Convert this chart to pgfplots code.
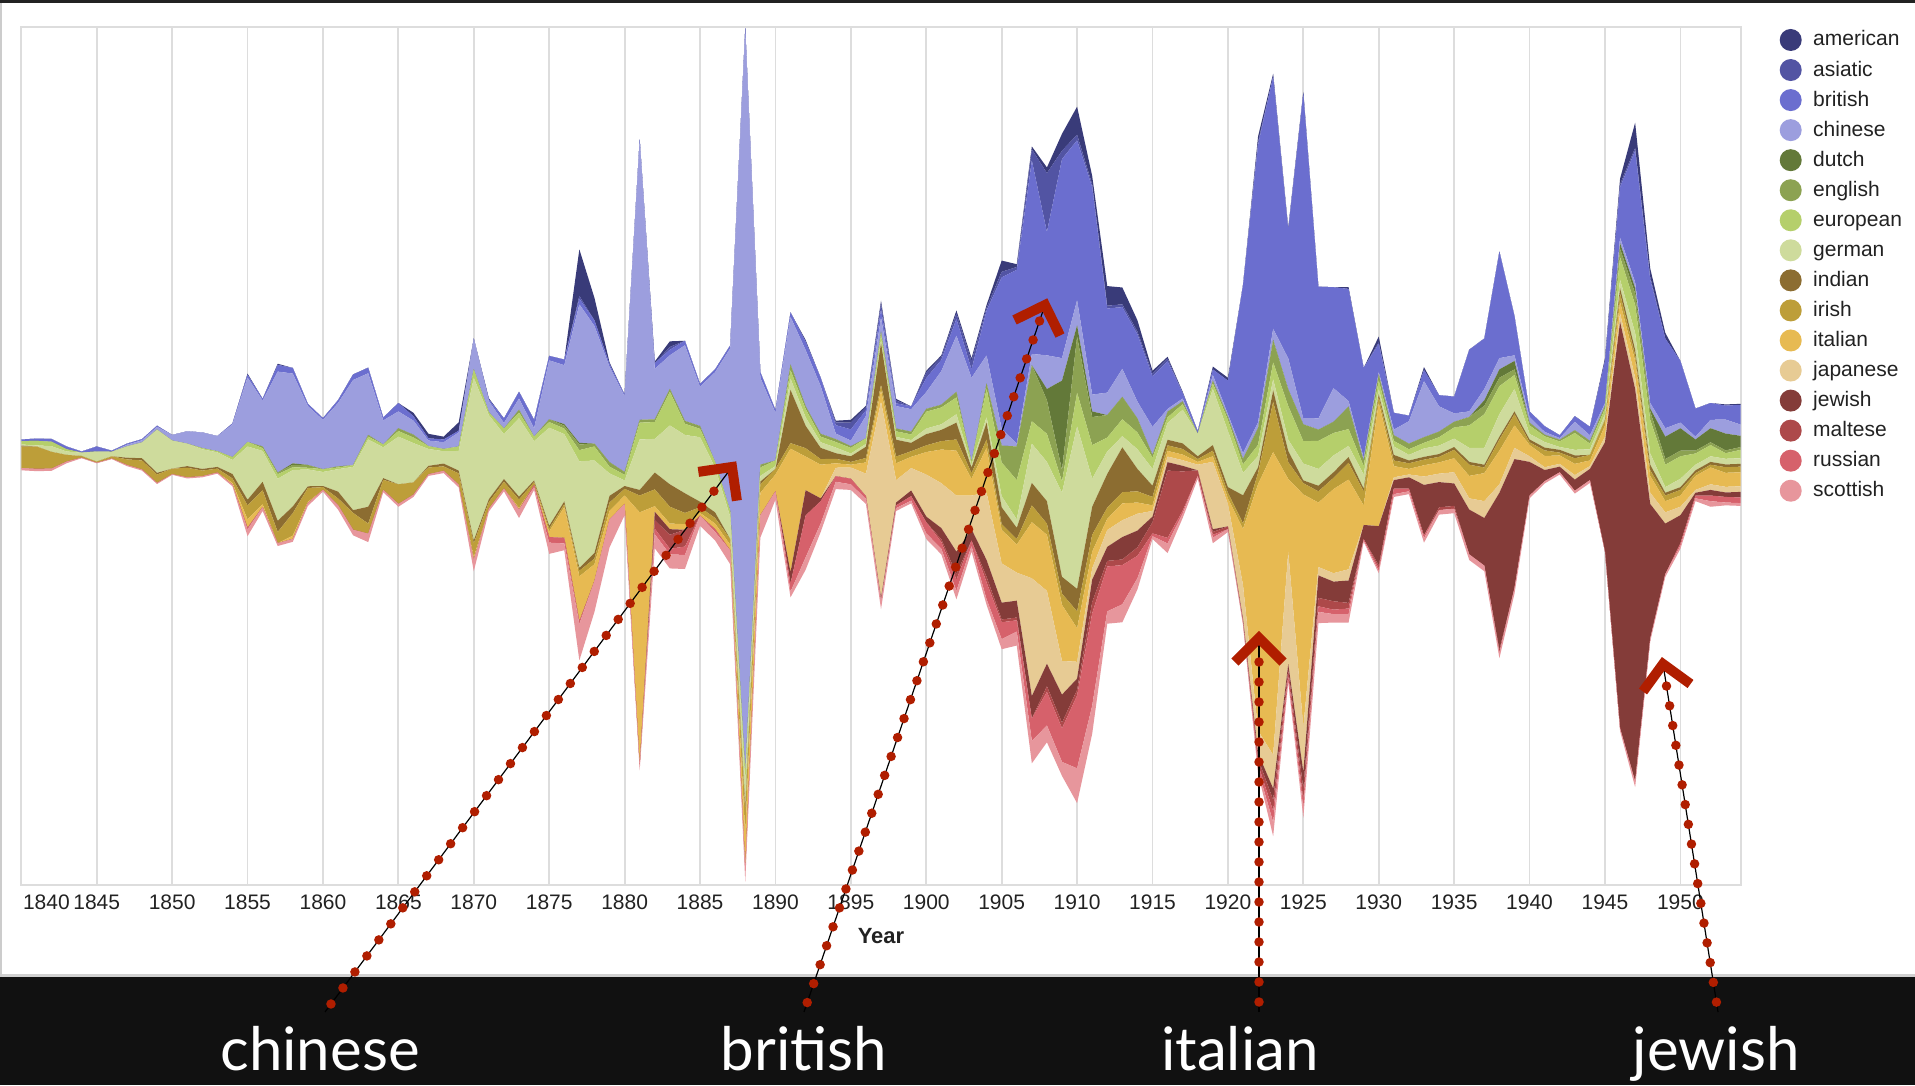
\documentclass[border=0pt]{standalone}
\usepackage{fontspec}
\setmainfont{Liberation Sans}
\newfontfamily\latofont{Lato}
\usepackage{pgfplots}
\pgfplotsset{compat=1.18}
\usepackage{pgfplotstable}
\usetikzlibrary{calc}

\definecolor{cam}{HTML}{393B79}
\definecolor{cas}{HTML}{5254A3}
\definecolor{cbr}{HTML}{6B6ECF}
\definecolor{cch}{HTML}{9C9EDE}
\definecolor{cdu}{HTML}{637939}
\definecolor{cen}{HTML}{8CA252}
\definecolor{ceu}{HTML}{B5CF6B}
\definecolor{cge}{HTML}{CEDB9C}
\definecolor{cin}{HTML}{8C6D31}
\definecolor{cir}{HTML}{BD9E39}
\definecolor{cit}{HTML}{E7BA52}
\definecolor{cja}{HTML}{E7CB94}
\definecolor{cje}{HTML}{843C39}
\definecolor{cma}{HTML}{AD494A}
\definecolor{cru}{HTML}{D6616B}
\definecolor{csc}{HTML}{E7969C}
\definecolor{cgrid}{HTML}{DDDDDD}
\definecolor{cband}{HTML}{111111}
\definecolor{ctext}{HTML}{222222}
\definecolor{cdot}{HTML}{B01E00}

\pgfplotstableread{
year am as br ch du en eu ge in ir it ja je ma ru sc
1840 0 0 3 0 0 0 6 2 2 38 0 0 0 0 0 4
1841 0 0 4 0 0 0 8 2 0 40 0 0 0 0 0 4
1842 0 0 5 0 0 0 8 10 0 30 0 0 0 0 0 4
1843 0 0 5 0 0 0 4 6 0 12 0 0 0 0 0 3
1844 0 0 2 0 0 0 0 6 0 3 0 0 0 0 0 1
1845 0 0 9 0 0 0 0 18 0 2 0 0 0 0 0 1
1846 0 0 2 0 0 0 0 8 0 4 0 0 0 0 0 1
1847 0 0 2 3 0 0 0 20 3 10 0 0 0 0 0 2
1848 0 0 2 4 0 0 0 28 4 16 0 0 0 0 0 2
1849 0 0 2 5 0 0 0 77 3 15 0 0 0 0 0 2
1850 0 0 0 10 0 0 0 50 0 10 0 0 0 0 0 1
1851 0 0 0 22 0 0 0 40 3 17 0 0 0 0 0 2
1852 0 0 0 28 0 0 2 35 3 10 0 0 0 0 0 2
1853 0 0 0 27 0 0 2 26 3 7 0 0 0 0 0 2
1854 0 0 2 58 0 0 5 25 8 8 3 0 0 0 0 3
1855 2 0 5 115 0 0 8 95 10 25 15 0 0 0 3 12
1856 0 0 3 82 0 3 5 55 15 25 5 0 0 0 0 7
1857 2 0 12 180 0 3 8 75 20 20 0 0 0 0 0 5
1858 0 0 10 160 3 4 5 65 12 40 6 0 0 0 0 5
1859 0 0 4 105 0 5 3 30 3 25 2 0 0 0 0 5
1860 0 0 3 88 0 0 5 25 2 5 0 0 0 0 0 3
1861 0 0 5 113 0 2 3 40 12 12 0 0 0 0 0 8
1862 0 0 10 152 0 0 3 77 5 30 0 0 0 0 0 10
1863 0 0 10 110 0 3 5 120 30 18 0 0 0 0 0 15
1864 0 0 5 43 0 0 5 55 3 18 0 0 0 0 0 4
1865 0 0 15 30 0 5 10 85 0 35 0 0 0 0 0 5
1866 6 0 8 25 0 5 10 70 0 22 0 0 0 0 0 4
1867 8 0 4 10 0 0 5 30 3 12 0 0 0 0 0 3
1868 5 0 5 12 0 0 4 22 5 8 0 0 0 0 0 4
1869 15 0 3 25 0 0 8 35 5 20 0 0 0 0 0 5
1870 0 0 0 55 0 0 15 290 5 25 5 0 0 0 0 20
1871 2 0 3 20 0 0 5 150 5 12 0 0 0 0 0 5
1872 0 0 8 10 0 0 10 80 5 12 0 0 0 0 0 5
1873 0 0 12 20 0 5 10 140 5 15 3 0 0 0 0 15
1874 0 0 15 15 0 0 8 70 3 5 0 0 0 0 4 5
1875 0 0 8 105 0 5 10 175 5 5 10 0 0 0 10 20
1876 0 0 10 105 3 5 10 120 5 5 55 0 0 0 10 12
1877 83 5 10 247 3 10 20 190 5 10 80 0 0 0 5 65
1878 40 0 10 210 0 5 25 165 10 10 30 0 0 0 0 55
1879 3 0 5 170 0 8 12 40 12 15 15 0 0 0 0 50
1880 0 0 3 135 0 5 10 10 5 12 15 0 0 0 0 20
1881 0 0 0 500 0 5 30 90 10 30 450 0 0 0 0 10
1882 3 0 10 90 0 5 30 60 30 30 10 0 15 15 10 25
1883 10 5 10 60 0 5 60 105 40 30 10 0 10 25 10 25
1884 0 0 8 135 0 5 20 104 35 20 10 0 0 30 15 25
1885 0 0 5 70 0 5 15 115 10 10 5 0 0 0 0 18
1886 0 0 5 160 0 0 10 80 10 10 10 0 0 0 5 15
1887 0 0 5 290 0 0 10 40 0 10 10 0 0 0 0 25
1888 0 0 8 1320 0 0 20 40 10 40 60 0 0 0 0 24
1889 0 0 10 155 0 5 15 10 5 15 40 0 0 0 0 40
1890 0 0 5 85 0 0 10 5 0 10 30 0 0 0 0 15
1891 0 0 8 85 0 10 15 20 95 10 220 0 20 0 15 10
1892 3 0 15 100 0 5 15 15 40 15 60 0 45 0 75 22
1893 0 0 15 85 0 5 10 10 20 10 60 0 5 0 40 15
1894 3 5 15 10 0 5 10 10 10 8 8 15 0 0 10 13
1895 5 12 20 10 0 3 10 5 10 5 5 20 0 0 10 10
1896 3 5 10 40 0 0 10 5 20 8 20 40 0 0 5 9
1897 5 10 15 25 0 5 10 5 75 10 20 350 5 0 0 15
1898 3 5 5 40 0 5 10 5 30 12 30 40 5 0 5 5
1899 0 0 5 40 0 5 10 5 15 10 20 40 10 0 8 5
1900 3 10 25 30 0 5 30 10 20 12 40 75 10 0 20 10
1901 3 5 20 60 0 5 30 10 20 15 60 80 20 5 12 10
1902 5 10 30 100 0 10 30 15 30 20 80 100 40 10 20 15
1903 5 15 15 150 0 0 5 5 10 10 30 60 20 0 10 10
1904 5 5 80 50 0 10 50 10 30 15 80 120 30 10 30 10
1905 20 10 270 30 0 30 60 20 30 10 60 70 30 5 30 18
1906 5 5 310 5 0 60 70 15 20 10 50 50 30 5 20 25
1907 5 20 345 20 0 100 40 70 40 30 100 210 40 0 40 40
1908 10 105 220 60 20 60 50 70 40 20 100 130 40 10 60 30
1909 30 15 355 40 160 20 20 150 30 20 100 60 50 10 60 25
1910 50 10 285 45 20 100 60 290 40 30 60 30 20 10 130 62
1911 15 5 370 30 10 50 60 50 50 30 30 20 40 20 165 50
1912 35 5 150 40 0 40 25 40 60 20 20 30 25 10 80 22
1913 30 5 110 50 0 40 30 20 80 20 30 30 40 10 70 32
1914 20 5 120 30 0 25 30 35 40 20 20 30 30 15 40 20
1915 5 5 90 50 0 5 20 30 20 15 10 10 10 20 5 5
1916 3 5 85 5 0 10 10 30 10 10 10 10 15 120 10 17
1917 2 0 10 5 0 5 10 60 10 10 10 10 10 70 5 8
1918 0 0 5 0 0 0 0 40 5 5 5 10 0 10 0 5
1919 5 0 10 10 0 5 10 100 10 10 10 120 5 5 5 10
1920 5 0 60 5 0 5 20 100 10 10 10 40 0 5 0 5
1921 0 0 300 10 0 10 15 40 50 10 100 60 5 0 3 3
1922 10 5 495 10 0 30 20 20 10 20 440 40 10 10 10 6
1923 5 0 450 20 0 40 30 20 20 90 540 60 20 20 20 25
1924 3 0 230 55 0 30 60 20 20 30 130 200 10 10 10 2
1925 3 0 580 10 0 30 40 30 5 20 415 80 30 20 15 17
1926 0 0 235 20 0 20 50 30 10 20 115 15 40 15 10 20
1927 0 0 180 60 0 20 40 30 10 20 150 15 35 15 8 15
1928 3 0 200 10 0 40 30 20 10 30 160 20 40 10 10 15
1929 0 0 160 5 0 10 15 25 5 25 35 0 25 0 3 2
1930 10 3 50 5 0 10 15 10 5 10 220 0 70 5 5 4
1931 0 0 30 10 0 10 10 15 10 10 20 5 15 0 10 5
1932 0 0 10 40 0 10 10 10 5 10 10 5 20 0 5 5
1933 5 0 20 100 0 10 10 15 5 10 20 15 90 0 5 8
1934 0 0 20 45 0 10 15 15 5 10 20 15 45 5 0 8
1935 0 0 30 15 0 10 20 15 5 15 25 20 40 5 0 8
1936 0 0 110 10 0 15 40 25 5 20 40 20 80 0 0 10
1937 0 0 90 20 10 15 60 30 5 10 50 30 85 0 0 10
1938 0 0 190 20 15 15 50 40 5 20 60 15 280 5 0 10
1939 0 0 70 10 15 10 25 40 5 20 40 20 230 0 0 10
1940 0 0 10 10 0 5 15 10 5 5 20 10 60 0 0 5
1941 0 0 10 5 0 3 10 10 5 10 20 5 20 0 0 4
1942 0 0 5 3 0 3 10 5 5 5 15 5 10 0 0 4
1943 0 0 10 15 0 5 30 10 5 10 20 8 20 0 0 5
1944 0 0 15 10 0 5 10 10 0 10 10 5 20 0 0 5
1945 5 0 75 5 0 5 10 10 0 10 20 10 195 0 0 0
1946 10 5 90 10 10 15 40 15 10 15 20 15 725 0 0 5
1947 45 5 235 10 10 20 50 30 10 10 30 20 700 0 0 10
1948 15 5 220 10 5 15 60 20 10 10 30 20 240 0 0 5
1949 10 0 160 15 40 10 40 10 5 10 20 20 90 0 0 5
1950 0 0 110 10 40 10 40 15 5 10 20 15 50 0 5 5
1951 0 0 50 5 20 5 20 10 5 5 25 5 5 0 5 5
1952 0 0 30 15 25 5 20 10 5 5 30 10 10 0 10 10
1953 2 0 25 25 30 5 10 10 5 10 25 10 8 0 10 5
1954 2 0 35 20 20 5 15 10 5 10 25 10 10 0 10 5
}\data
\pgfplotstablecreatecol[expr={-0.5*(\thisrow{am}+\thisrow{as}+\thisrow{br}+\thisrow{ch}+\thisrow{du}+\thisrow{en}+\thisrow{eu}+\thisrow{ge}+\thisrow{in}+\thisrow{ir}+\thisrow{it}+\thisrow{ja}+\thisrow{je}+\thisrow{ma}+\thisrow{ru}+\thisrow{sc})}]{base}{\data}

\begin{document}
\begin{tikzpicture}[x=1pt,y=1pt]
\useasboundingbox (0,0) rectangle (1915,1085);
\fill[white] (0,0) rectangle (1915,1085);
\fill[cband] (0,0) rectangle (1915,108);
\fill[black!18] (0,108) rectangle (1915,110.5);
\fill[black!20] (0,108) rectangle (2,1082.5);
\fill[ctext] (0,1082.3) rectangle (1915,1085);

\begin{axis}[
  at={(21.3pt,200pt)}, anchor=south west,
  width=1719.4pt, height=858pt, scale only axis,
  xmin=1840, xmax=1954, ymin=-767, ymax=763,
  stack plots=y,
  axis line style={draw=cgrid, line width=1.8pt},
  ytick=\empty,
  xtick={1845,1850,...,1950},
  extra x ticks={1840},
  extra x tick style={grid=none, xticklabel style={anchor=north west, xshift=1.5pt}},
  xmajorgrids, grid style={draw=cgrid, line width=1.8pt},
  major tick length=0pt, tick style={draw=none},
  xticklabel style={font=\fontsize{21}{21}\selectfont, text=ctext, inner sep=0pt, yshift=-10pt},
  /pgf/number format/1000 sep={}, /pgf/number format/assume math mode=true,
]
\addplot[draw=none] table[x=year,y=base]{\data};
\addplot[fill=csc,draw=none] table[x=year,y=sc]{\data} \closedcycle;
\addplot[fill=cru,draw=none] table[x=year,y=ru]{\data} \closedcycle;
\addplot[fill=cma,draw=none] table[x=year,y=ma]{\data} \closedcycle;
\addplot[fill=cje,draw=none] table[x=year,y=je]{\data} \closedcycle;
\addplot[fill=cja,draw=none] table[x=year,y=ja]{\data} \closedcycle;
\addplot[fill=cit,draw=none] table[x=year,y=it]{\data} \closedcycle;
\addplot[fill=cir,draw=none] table[x=year,y=ir]{\data} \closedcycle;
\addplot[fill=cin,draw=none] table[x=year,y=in]{\data} \closedcycle;
\addplot[fill=cge,draw=none] table[x=year,y=ge]{\data} \closedcycle;
\addplot[fill=ceu,draw=none] table[x=year,y=eu]{\data} \closedcycle;
\addplot[fill=cen,draw=none] table[x=year,y=en]{\data} \closedcycle;
\addplot[fill=cdu,draw=none] table[x=year,y=du]{\data} \closedcycle;
\addplot[fill=cch,draw=none] table[x=year,y=ch]{\data} \closedcycle;
\addplot[fill=cbr,draw=none] table[x=year,y=br]{\data} \closedcycle;
\addplot[fill=cas,draw=none] table[x=year,y=as]{\data} \closedcycle;
\addplot[fill=cam,draw=none] table[x=year,y=am]{\data} \closedcycle;
\end{axis}

\node[font=\bfseries\fontsize{22}{22}\selectfont, text=ctext, anchor=base, inner sep=0pt] at (881,141.6) {Year};

\foreach \c/\n [count=\i from 0] in {cam/american,cas/asiatic,cbr/british,cch/chinese,cdu/dutch,cen/english,ceu/european,cge/german,cin/indian,cir/irish,cit/italian,cja/japanese,cje/jewish,cma/maltese,cru/russian,csc/scottish}{
  \fill[\c] (1790.7pt,{1045-30.05*\i}) circle (11pt);
  \node[anchor=base west, inner sep=0pt, font=\fontsize{21}{21}\selectfont, text=ctext] at (1813,{1045-30.05*\i-6}) {\n};
}

\foreach \lab/\xx in {chinese/320,british/804,italian/1240,jewish/1716}{
  \node[anchor=base, inner sep=0pt, text=white, font=\latofont\fontsize{60}{60}\selectfont] at (\xx,15) {\lab};
}

\foreach \sx/\ax/\ay in {325/732/618, 804/1045/780, 1259/1259/447, 1718/1663/421}{
  \draw[black, line width=1.2pt] (\sx,73) -- (\ax,\ay);
  \draw[cdot, line width=9.5pt, line cap=round, dash pattern=on 0pt off 20pt]
     ($(\sx,73)!10pt!(\ax,\ay)$) -- ($(\ax,\ay)!14pt!(\sx,73)$);
  \draw[cdot, line width=10pt, line join=miter, miter limit=10]
     ($(\ax,\ay)!34pt!45:(\sx,73)$) -- (\ax,\ay) -- ($(\ax,\ay)!34pt!-45:(\sx,73)$);
}
\end{tikzpicture}
\end{document}
